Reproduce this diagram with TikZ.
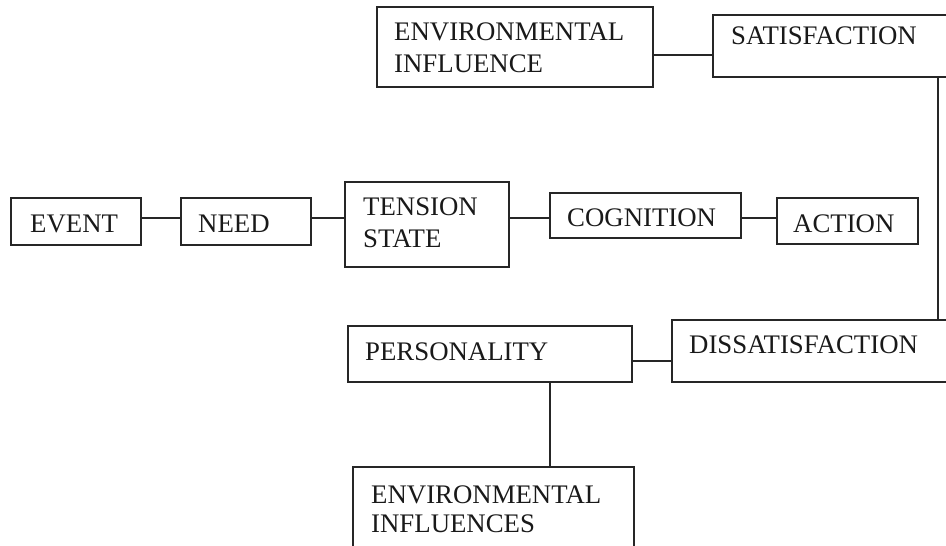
\documentclass[tikz,border=0pt]{standalone}
\usepackage{fontspec}
\setmainfont{Liberation Serif}
\tikzset{
  box/.style={draw=black!85, line width=1.2pt, rectangle, inner sep=0pt, outer sep=0pt},
  label text/.style={anchor=base west, inner sep=0pt, text width=8cm, align=left,
    font=\fontsize{26.8}{32}\selectfont, text=black!90},
  link/.style={draw=black!85, line width=1.2pt}
}
\begin{document}
\begin{tikzpicture}[x=1pt, y=-1pt]
\useasboundingbox (0,0) rectangle (946,546);
\clip (0,0) rectangle (946,546);

% boxes
\node[box, minimum width=276, minimum height=80] (envA) at (515,47) {};
\node[box, minimum width=252, minimum height=62] (sat) at (839,46) {};
\node[box, minimum width=130, minimum height=47] (event) at (76,221.5) {};
\node[box, minimum width=130, minimum height=47] (need) at (246,221.5) {};
\node[box, minimum width=164, minimum height=85] (tension) at (427,224.5) {};
\node[box, minimum width=191, minimum height=45] (cog) at (645.5,215.5) {};
\node[box, minimum width=141, minimum height=46] (action) at (847.5,221) {};
\node[box, minimum width=284, minimum height=56] (pers) at (490,354) {};
\node[box, minimum width=293, minimum height=62] (diss) at (818.5,351) {};
\node[box, minimum width=281, minimum height=103] (envB) at (493.5,518.5) {};

% texts
\node[label text] (envA-t) at (394,41) {ENVIRONMENTAL\\INFLUENCE};
\node[label text] (sat-t) at (731,45) {SATISFACTION};
\node[label text] (event-t) at (30,232) {EVENT};
\node[label text] (need-t) at (198,232) {NEED};
\node[label text] (tension-t) at (363,215) {TENSION\\STATE};
\node[label text] (cog-t) at (567,226) {COGNITION};
\node[label text] (action-t) at (793,232) {ACTION};
\node[label text] (pers-t) at (365,360) {PERSONALITY};
\node[label text] (diss-t) at (689,353) {DISSATISFACTION};
\node[label text, font=\fontsize{26.8}{29.5}\selectfont] (envB-t) at (371,503) {ENVIRONMENTAL\\INFLUENCES};

% guide lines for the connectors
\coordinate (top) at (0,55);
\coordinate (row) at (0,218);
\coordinate (low) at (0,361);
\coordinate (rail) at (938,0);
\coordinate (drop) at (550,0);

% connectors
\path[link] (envA.east |- top) -- (sat.west |- top);
\path[link] (event.east |- row) -- (need.west |- row);
\path[link] (need.east |- row) -- (tension.west |- row);
\path[link] (tension.east |- row) -- (cog.west |- row);
\path[link] (cog.east |- row) -- (action.west |- row);
\path[link] (sat.south -| rail) -- (diss.north -| rail);
\path[link] (pers.east |- low) -- (diss.west |- low);
\path[link] (pers.south -| drop) -- (envB.north -| drop);
\end{tikzpicture}
\end{document}
